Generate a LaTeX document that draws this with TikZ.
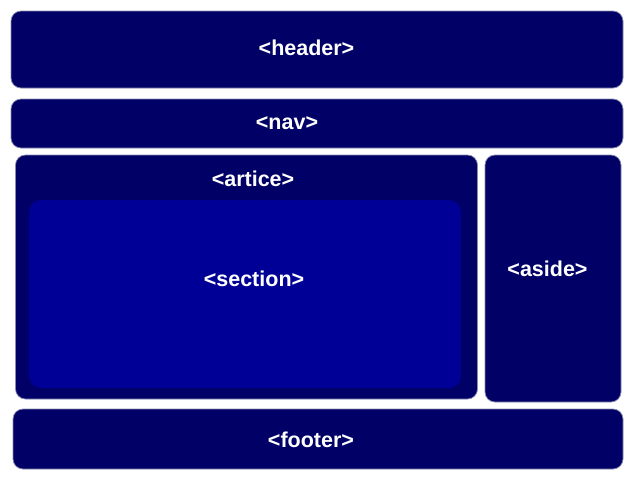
\documentclass[tikz,border=0pt]{standalone}
\usepackage{fontspec}
\setmainfont{Liberation Sans}
\definecolor{navyA}{HTML}{000066}
\definecolor{navyB}{HTML}{000096}
\definecolor{edgeC}{HTML}{8A8AB0}
\begin{document}
\begin{tikzpicture}[x=1pt,y=-1pt,
  box/.style={draw=edgeC, line width=0.7pt, fill=navyA, rounded corners=10pt, anchor=north west, inner sep=0pt, outer sep=0pt},
  inbox/.style={box, draw=none, fill=navyB, rounded corners=12pt},
  lbl/.style={text=white, font=\fontsize{21.5}{24}\selectfont\bfseries, inner sep=0pt}]
\useasboundingbox (0,0) rectangle (640,480);
\node[box, minimum width=612pt, minimum height=77pt] (header) at (11,11) {};
\node[box, minimum width=612pt, minimum height=49pt] (nav) at (11,99) {};
\node[box, minimum width=462pt, minimum height=244pt] (article) at (15.5,155) {};
\node[inbox, minimum width=432pt, minimum height=188pt] (section) at (29,200) {};
\node[box, minimum width=136pt, minimum height=247pt] (aside) at (485,155) {};
\node[box, minimum width=610pt, minimum height=60pt] (footer) at (13,409) {};
\node[lbl] (lheader) at (306.5,48) {<header>};
\node[lbl] (lnav) at (287,123) {<nav>};
\node[lbl] (larticle) at (253,179) {<artice>};
\node[lbl] (lsection) at (254,279) {<section>};
\node[lbl] (laside) at (547.5,269) {<aside>};
\node[lbl] (lfooter) at (311,440) {<footer>};
\end{tikzpicture}
\end{document}
